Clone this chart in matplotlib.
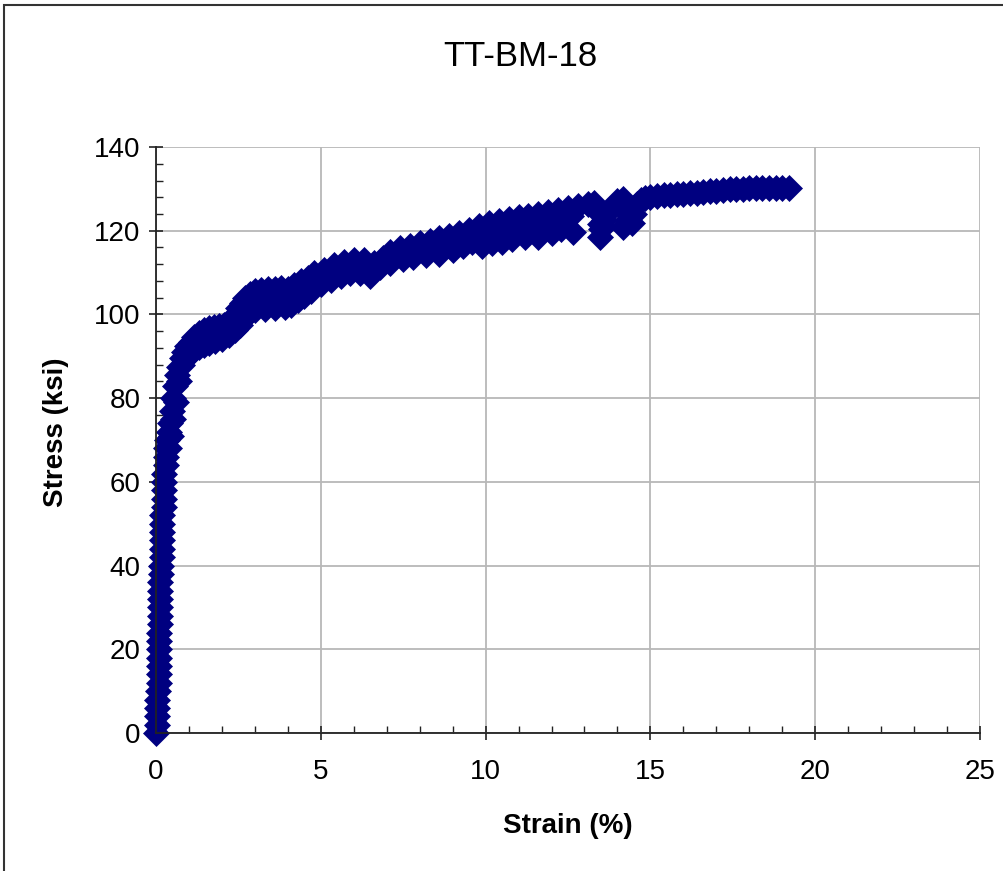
import matplotlib
matplotlib.use("Agg")
import matplotlib.pyplot as plt
from matplotlib.patches import Rectangle
from matplotlib.ticker import MultipleLocator

plt.rcParams['font.family'] = ['Liberation Sans', 'DejaVu Sans']

# elastic part
elastic_strain = [0.01, 0.02, 0.02, 0.02, 0.03,
                  0.07, 0.08, 0.08, 0.08, 0.08, 0.09, 0.09, 0.09,
                  0.12, 0.12, 0.13, 0.13, 0.13, 0.13, 0.14, 0.14,
                  0.17, 0.18, 0.18, 0.18, 0.19, 0.19,
                  0.23, 0.24, 0.24, 0.25, 0.25,
                  0.29, 0.30, 0.31]
elastic_stress = [0, 2, 4, 6, 8,
                  10, 12, 14, 16, 18, 20, 22, 24,
                  26, 28, 30, 32, 34, 36, 38, 40,
                  42, 44, 46, 48, 50, 52,
                  54, 56, 58, 60, 62,
                  64, 66, 68]

# yield knee
knee_strain = [0.34, 0.38, 0.42, 0.47, 0.52, 0.58, 0.64, 0.70, 0.78, 0.86,
               0.95, 1.05, 1.15, 1.30, 1.45, 1.60, 1.75, 1.90, 2.05, 2.20,
               2.35, 2.50, 2.60, 2.70, 2.85]
knee_stress = [70, 72, 74, 77, 80, 83, 85.5, 87.5, 89.5, 91,
               92.5, 93.5, 94.5, 95.5, 96.2, 96.8, 97.1, 97.3, 97.6, 98.3,
               99.5, 101.5, 102.8, 104, 105]
knee_low_strain = [0.40, 0.45, 0.52, 0.60, 0.70, 0.80, 0.90, 1.00, 1.15, 1.30,
                   1.45, 1.60, 1.80, 2.00, 2.20, 2.40, 2.55, 2.70, 2.85]
knee_low_stress = [68, 71, 75, 79, 84, 88, 89.5, 90.5, 91.5, 92.2,
                   92.8, 93.2, 93.6, 94.2, 95.0, 96.2, 97.5, 99.5, 100.6]

# hardening, serrated band
upper_strain = [3.0, 3.2, 3.4, 3.6, 3.8, 4.0, 4.2, 4.4, 4.6, 4.8,
                5.1, 5.4, 5.7, 6.0, 6.3, 6.6, 6.9,
                7.1, 7.4, 7.7, 8.0, 8.3, 8.6, 8.9, 9.2, 9.5, 9.8,
                10.1, 10.4, 10.7, 11.0, 11.3, 11.6, 11.9, 12.2, 12.5, 12.8,
                13.1, 13.3]
upper_stress = [105.5, 105.8, 106.0, 106.2, 106.3, 106.0, 107.0, 108.0, 108.7, 110.0,
                110.7, 111.7, 112.5, 113.0, 113.0, 112.3, 113.5,
                115.0, 115.8, 116.4, 117.0, 117.6, 118.2, 118.7, 119.4, 120.2, 121.2,
                121.8, 122.4, 122.8, 123.2, 123.6, 123.9, 124.5, 125.0, 125.4, 126.0,
                126.4, 126.6]
mid_strain = [3.0, 3.3, 3.6, 3.9, 4.2, 4.5, 4.8, 5.1, 5.4, 5.7,
              6.0, 6.3, 6.6, 6.9, 7.2, 7.5, 7.8, 8.1, 8.4, 8.7,
              9.0, 9.3, 9.6, 9.9, 10.2, 10.5, 10.8, 11.1, 11.4, 11.7,
              12.0, 12.3, 12.6]
mid_stress = [103.0, 103.5, 103.8, 104.0, 104.5, 106.5, 108.0, 109.0, 110.0, 110.8,
              111.5, 111.0, 110.5, 112.2, 113.5, 114.5, 115.2, 116.0, 116.5, 117.0,
              117.5, 118.2, 119.0, 119.5, 120.0, 120.3, 120.8, 121.3, 121.6, 122.0,
              122.5, 123.0, 123.5]
lower_strain = [3.0, 3.3, 3.6, 3.9, 4.1, 4.3, 4.5, 4.7, 5.0, 5.3,
                5.6, 5.9, 6.2, 6.5, 6.8, 7.1, 7.5, 7.8, 8.2, 8.6,
                9.0, 9.3, 9.6, 9.9, 10.2, 10.5, 10.8, 11.2, 11.6, 12.0,
                12.3, 12.66]
lower_stress = [101.0, 101.3, 101.5, 101.7, 102.2, 103.5, 104.5, 105.7, 107.3, 108.3,
                109.3, 110.0, 109.8, 109.3, 111.3, 112.2, 113.2, 113.7, 114.2, 114.5,
                115.3, 116.3, 117.2, 116.3, 117.0, 117.4, 118.0, 118.5, 118.6, 119.5,
                120.3, 119.8]

# unload dips and final plateau
end_strain = [13.4, 13.47, 13.47, 13.5, 13.6, 13.7, 13.85, 14.0, 14.18, 14.2,
              14.18, 14.3, 14.43, 14.5, 14.58, 14.7, 14.85, 15.0, 15.2, 15.4,
              15.6, 15.8, 16.0, 16.2, 16.4, 16.6, 16.8, 17.0, 17.2, 17.4,
              17.6, 17.8, 18.0, 18.2, 18.4, 18.6, 18.8, 19.0, 19.2]
end_stress = [124.5, 121.5, 118.4, 120.5, 122.5, 124.5, 126.0, 127.0, 127.5, 125.0,
              121.0, 122.5, 121.8, 124.0, 126.3, 127.3, 127.8, 128.0, 128.3, 128.5,
              128.6, 128.7, 128.8, 129.0, 129.1, 129.3, 129.4, 129.6, 129.7, 129.9,
              130.0, 130.0, 130.1, 130.1, 130.1, 130.1, 130.1, 130.1, 130.1]

segments = [(elastic_strain, elastic_stress), (knee_strain, knee_stress),
            (knee_low_strain, knee_low_stress), (upper_strain, upper_stress),
            (mid_strain, mid_stress), (lower_strain, lower_stress),
            (end_strain, end_stress)]

fig = plt.figure(figsize=(10.04, 8.71), dpi=100)
ax = fig.add_axes([0.1554, 0.1584, 0.8207, 0.6728])

navy = '#000080'
for sx, sy in segments:
    ax.plot(sx, sy, ls='none', marker='D', markersize=13,
            color=navy, markeredgecolor=navy, markeredgewidth=0.5, clip_on=False)

ax.set_xlim(0, 25)
ax.set_ylim(0, 140)
ax.xaxis.set_major_locator(MultipleLocator(5))
ax.xaxis.set_minor_locator(MultipleLocator(1))
ax.yaxis.set_major_locator(MultipleLocator(20))
ax.yaxis.set_minor_locator(MultipleLocator(4))
ax.grid(True, which='major', color='#b8b8b8', lw=1.3)
ax.set_axisbelow(True)

for s in ['top', 'right']:
    ax.spines[s].set_visible(False)
for s in ['left', 'bottom']:
    ax.spines[s].set_color('#222222')
    ax.spines[s].set_linewidth(1.3)

ax.tick_params(which='major', direction='inout', length=10, width=1.2,
               color='#222222', labelsize=20)
ax.tick_params(axis='x', which='major', pad=14)
ax.tick_params(axis='y', which='major', pad=6)
ax.tick_params(which='minor', direction='in', length=5, width=1.0, color='#222222')

ax.set_xlabel('Strain (%)', fontsize=20, fontweight='bold')
ax.set_ylabel('Stress (ksi)', fontsize=20, fontweight='bold')
ax.xaxis.set_label_coords(0.5, -0.1365)
ax.yaxis.set_label_coords(-0.1056, 0.514)

fig.text(0.518, 0.9346, 'TT-BM-18', fontsize=25, ha='center', va='center')

# chart area border (cut off at the right and bottom)
fig.add_artist(Rectangle((0.004, -0.2), 1.2, 0.2 + 0.9948, transform=fig.transFigure,
                         fill=False, edgecolor='#333333', lw=1.5))

fig.savefig('out.png', dpi=100)
